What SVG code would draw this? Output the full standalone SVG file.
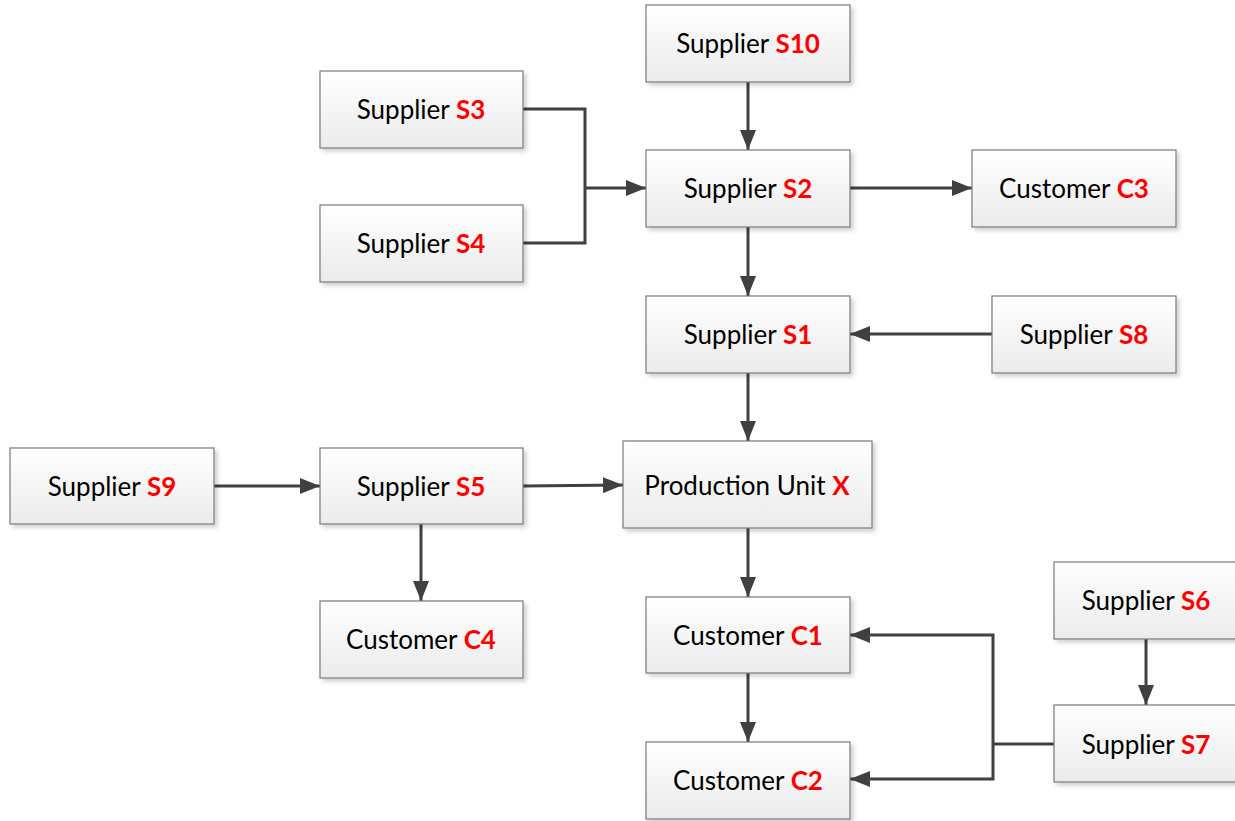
<svg xmlns="http://www.w3.org/2000/svg" width="1235" height="821" viewBox="0 0 1235 821">
  <defs>
    <linearGradient id="boxFill" x1="0" y1="0" x2="0" y2="1">
      <stop offset="0" stop-color="#ffffff"/>
      <stop offset="1" stop-color="#ebebeb"/>
    </linearGradient>
    <filter id="shadow" x="-10%" y="-10%" width="130%" height="140%">
      <feDropShadow dx="3" dy="3" stdDeviation="2" flood-color="#000" flood-opacity="0.18"/>
    </filter>
    <marker id="arrow" viewBox="0 0 20 16" refX="20" refY="8" markerWidth="20" markerHeight="16" markerUnits="userSpaceOnUse" orient="auto">
      <path d="M0,0 L20,8 L0,16 Z" fill="#404040"/>
    </marker>
    <style>
      .box { fill: url(#boxFill); stroke: #7a7a7a; stroke-width: 1.2; filter: url(#shadow); }
      .lbl { font-family: Lato, "Open Sans", "Liberation Sans", sans-serif; font-size: 26px; fill: #000; text-anchor: middle; dominant-baseline: central; }
      .id { fill: #ff0000; font-weight: bold; }
      .wire { fill: none; stroke: #404040; stroke-width: 3; }
      .arr { marker-end: url(#arrow); }
    </style>
  </defs>

  <g id="connectors">
    <path class="wire arr" d="M748,82 V150"/>
    <path class="wire" d="M523,109 H585 V243 H523"/>
    <path class="wire arr" d="M585,188 H646"/>
    <path class="wire arr" d="M850,188 H972"/>
    <path class="wire arr" d="M748,227 V296"/>
    <path class="wire arr" d="M992,334 H850"/>
    <path class="wire arr" d="M748,373 V441"/>
    <path class="wire arr" d="M214,486 H320"/>
    <path class="wire arr" d="M523,486 L623,485"/>
    <path class="wire arr" d="M421,524 V601"/>
    <path class="wire arr" d="M748,528 V597"/>
    <path class="wire arr" d="M748,673 V742"/>
    <path class="wire" d="M1054,744 H993"/>
    <path class="wire arr" d="M993,744 V635 H850"/>
    <path class="wire arr" d="M993,744 V779 H850"/>
    <path class="wire arr" d="M1146,639 V705"/>
  </g>

  <g id="s10"><rect class="box" x="646" y="5" width="204" height="77"/><text class="lbl" x="748" y="43">Supplier <tspan class="id">S10</tspan></text></g>
  <g id="s3"><rect class="box" x="320" y="71" width="203" height="77"/><text class="lbl" x="421" y="109">Supplier <tspan class="id">S3</tspan></text></g>
  <g id="s2"><rect class="box" x="646" y="150" width="204" height="77"/><text class="lbl" x="748" y="188">Supplier <tspan class="id">S2</tspan></text></g>
  <g id="c3"><rect class="box" x="972" y="150" width="204" height="77"/><text class="lbl" x="1074" y="188">Customer <tspan class="id">C3</tspan></text></g>
  <g id="s4"><rect class="box" x="320" y="205" width="203" height="77"/><text class="lbl" x="421" y="243">Supplier <tspan class="id">S4</tspan></text></g>
  <g id="s1"><rect class="box" x="646" y="296" width="204" height="77"/><text class="lbl" x="748" y="334">Supplier <tspan class="id">S1</tspan></text></g>
  <g id="s8"><rect class="box" x="992" y="296" width="184" height="77"/><text class="lbl" x="1084" y="334">Supplier <tspan class="id">S8</tspan></text></g>
  <g id="s9"><rect class="box" x="10" y="448" width="204" height="76"/><text class="lbl" x="112" y="486">Supplier <tspan class="id">S9</tspan></text></g>
  <g id="s5"><rect class="box" x="320" y="448" width="203" height="76"/><text class="lbl" x="421" y="486">Supplier <tspan class="id">S5</tspan></text></g>
  <g id="x"><rect class="box" x="623" y="441" width="249" height="87"/><text class="lbl" x="747" y="485">Production Unit <tspan class="id">X</tspan></text></g>
  <g id="c4"><rect class="box" x="320" y="601" width="203" height="77"/><text class="lbl" x="421" y="639">Customer <tspan class="id">C4</tspan></text></g>
  <g id="c1"><rect class="box" x="646" y="597" width="204" height="76"/><text class="lbl" x="748" y="635">Customer <tspan class="id">C1</tspan></text></g>
  <g id="s6"><rect class="box" x="1054" y="562" width="190" height="77"/><text class="lbl" x="1146" y="600">Supplier <tspan class="id">S6</tspan></text></g>
  <g id="s7"><rect class="box" x="1054" y="705" width="190" height="77"/><text class="lbl" x="1146" y="744">Supplier <tspan class="id">S7</tspan></text></g>
  <g id="c2"><rect class="box" x="646" y="742" width="204" height="77"/><text class="lbl" x="748" y="780">Customer <tspan class="id">C2</tspan></text></g>
</svg>
